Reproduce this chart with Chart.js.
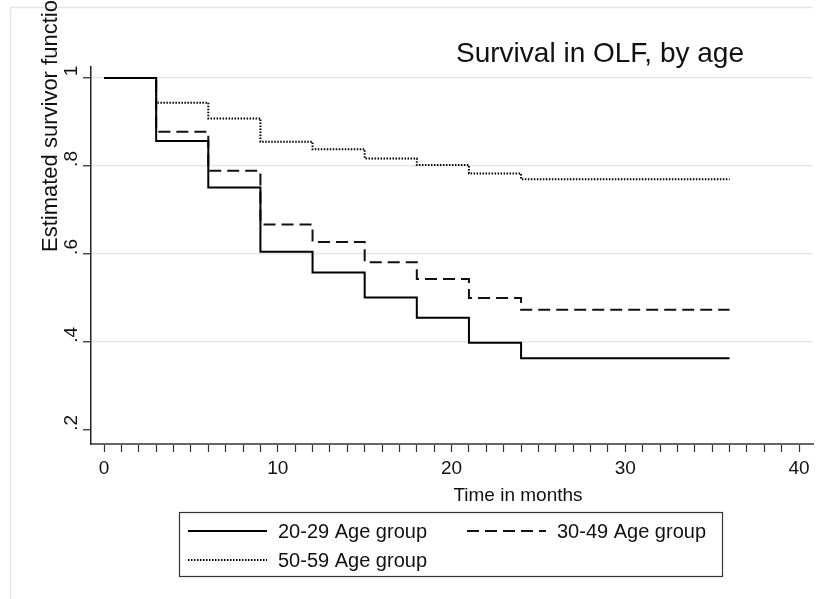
<!DOCTYPE html>
<html>
<head>
<meta charset="utf-8">
<title>Survival in OLF, by age</title>
<script src="https://cdn.jsdelivr.net/npm/chart.js@4/dist/chart.umd.min.js"></script>
<style>
  body { margin: 0; background: #fff; }
  #wrap { width: 820px; height: 599px; }
</style>
</head>
<body>
<div id="wrap"><canvas id="kmChart" width="820" height="599"></canvas></div>
<script>
// Kaplan-Meier step points (months, estimated survivor function)
const months   = [0, 3, 6, 9, 12, 15, 18, 21, 24, 36];
const age2029  = [1, 0.857, 0.751, 0.605, 0.558, 0.501, 0.455, 0.398, 0.363, 0.363];
const age3049  = [1, 0.878, 0.789, 0.667, 0.627, 0.581, 0.543, 0.500, 0.473, 0.473];
const age5059  = [1, 0.944, 0.908, 0.855, 0.838, 0.817, 0.802, 0.783, 0.770, 0.770];

const seriesLabels = ['20-29 Age group', '30-49 Age group', '50-59 Age group'];

const yTickValues = [0.2, 0.4, 0.6, 0.8, 1];
const yTickLabels = ['.2', '.4', '.6', '.8', '1'];
const xLabelled   = [0, 10, 20, 30, 40];
const xTickLabels = ['0', '10', '20', '30', '40'];

const chartTitle = 'Survival in OLF, by age';
const xTitle = 'Time in months';
const yTitle = 'Estimated survivor function';

const FONT = '"Liberation Sans", Arial, Helvetica, sans-serif';

function toPoints(ys) {
  return months.map((m, i) => ({ x: m, y: ys[i] }));
}

// minor ticks every month, labels every 10
const xMinor = [];
for (let m = 0; m <= 40; m++) xMinor.push(m);

// titles, legend box and faint outer frame (Stata look)
const decorations = {
  id: 'decorations',
  beforeDraw(chart) {
    const ctx = chart.ctx;
    ctx.save();
    ctx.fillStyle = '#fff';
    ctx.fillRect(0, 0, chart.width, chart.height);
    ctx.strokeStyle = '#e6e6e6';
    ctx.lineWidth = 1.5;
    ctx.beginPath();
    ctx.moveTo(10.5, chart.height);
    ctx.lineTo(10.5, 7.5);
    ctx.lineTo(813, 7.5);
    ctx.stroke();
    ctx.restore();
  },
  afterDraw(chart) {
    const ctx = chart.ctx;
    const area = chart.chartArea;
    ctx.save();
    ctx.fillStyle = '#111';

    // main title, right of centre
    ctx.font = '28px ' + FONT;
    ctx.textAlign = 'center';
    ctx.textBaseline = 'alphabetic';
    ctx.fillText(chartTitle, 600, 62);

    // y title (runs off the top edge, as in the original)
    ctx.save();
    ctx.translate(57, 252);
    ctx.rotate(-Math.PI / 2);
    ctx.font = '22px ' + FONT;
    ctx.textAlign = 'left';
    ctx.fillText(yTitle, 0, 0);
    ctx.restore();

    // x title
    ctx.font = '19px ' + FONT;
    ctx.textAlign = 'center';
    ctx.fillText(xTitle, 518, 501);

    // legend
    const cx = (area.left + area.right) / 2;
    const box = { left: cx - 273, top: 512, w: 543, h: 64 };
    ctx.strokeStyle = '#333';
    ctx.lineWidth = 1.2;
    ctx.strokeRect(box.left + 0.5, box.top + 0.5, box.w, box.h);

    const cols = [box.left + 9, box.left + 288];
    const rows = [531, 560];
    ctx.font = '20px ' + FONT;
    ctx.textAlign = 'left';
    ctx.textBaseline = 'alphabetic';
    chart.data.datasets.forEach((ds, i) => {
      const x = cols[i % 2];
      const y = rows[Math.floor(i / 2)];
      ctx.save();
      ctx.strokeStyle = ds.borderColor;
      ctx.lineWidth = ds.borderWidth;
      ctx.setLineDash(ds.borderDash || []);
      ctx.beginPath();
      ctx.moveTo(x, y);
      ctx.lineTo(x + 79, y);
      ctx.stroke();
      ctx.restore();
      ctx.fillStyle = '#111';
      ctx.fillText(ds.label, x + 90, y + 7);
    });
    ctx.restore();
  }
};

new Chart(document.getElementById('kmChart'), {
  type: 'line',
  data: {
    datasets: [
      {
        label: seriesLabels[0],
        data: toPoints(age2029),
        borderColor: '#000',
        borderWidth: 2,
        stepped: true,
        pointRadius: 0,
        fill: false
      },
      {
        label: seriesLabels[1],
        data: toPoints(age3049),
        borderColor: '#111',
        borderWidth: 2,
        borderDash: [12, 6],
        stepped: true,
        pointRadius: 0,
        fill: false
      },
      {
        label: seriesLabels[2],
        data: toPoints(age5059),
        borderColor: '#000',
        borderWidth: 2,
        borderDash: [1.5, 1.5],
        stepped: true,
        pointRadius: 0,
        fill: false
      }
    ]
  },
  options: {
    responsive: false,
    animation: false,
    layout: { padding: { left: 56, right: 7, top: 67, bottom: 115 } },
    plugins: {
      legend: { display: false },
      title: { display: false },
      tooltip: { enabled: false }
    },
    scales: {
      x: {
        type: 'linear',
        min: -0.75,
        max: 40.8,
        afterFit: s => { s.height = 40; },
        afterBuildTicks: s => { s.ticks = xMinor.map(v => ({ value: v })); },
        border: { display: true, color: '#666', width: 2 },
        grid: {
          drawOnChartArea: false,
          drawTicks: true,
          tickLength: 8,
          tickColor: '#333',
          tickWidth: 1.2
        },
        ticks: {
          autoSkip: false,
          maxRotation: 0,
          padding: 5,
          color: '#111',
          font: { family: FONT, size: 19 },
          callback: v => {
            const k = xLabelled.indexOf(v);
            return k >= 0 ? xTickLabels[k] : '';
          }
        }
      },
      y: {
        type: 'linear',
        min: 0.168,
        max: 1.025,
        afterFit: s => { s.width = 35; },
        afterBuildTicks: s => { s.ticks = yTickValues.map(v => ({ value: v })); },
        border: { display: true, color: '#222', width: 1.5 },
        grid: {
          drawOnChartArea: true,
          color: c => (c.tick && c.tick.value < 0.3 ? 'rgba(0,0,0,0)' : '#e8e8e8'),
          lineWidth: 1.5,
          drawTicks: true,
          tickLength: 8,
          tickColor: '#222',
          tickWidth: 1.2
        },
        ticks: {
          minRotation: 90,
          maxRotation: 90,
          crossAlign: 'center',
          padding: 3,
          labelOffset: -7,
          color: '#111',
          font: { family: FONT, size: 19 },
          callback: v => {
            const k = yTickValues.findIndex(t => Math.abs(t - v) < 1e-6);
            return k >= 0 ? yTickLabels[k] : '';
          }
        }
      }
    }
  },
  plugins: [decorations]
});
</script>
</body>
</html>
